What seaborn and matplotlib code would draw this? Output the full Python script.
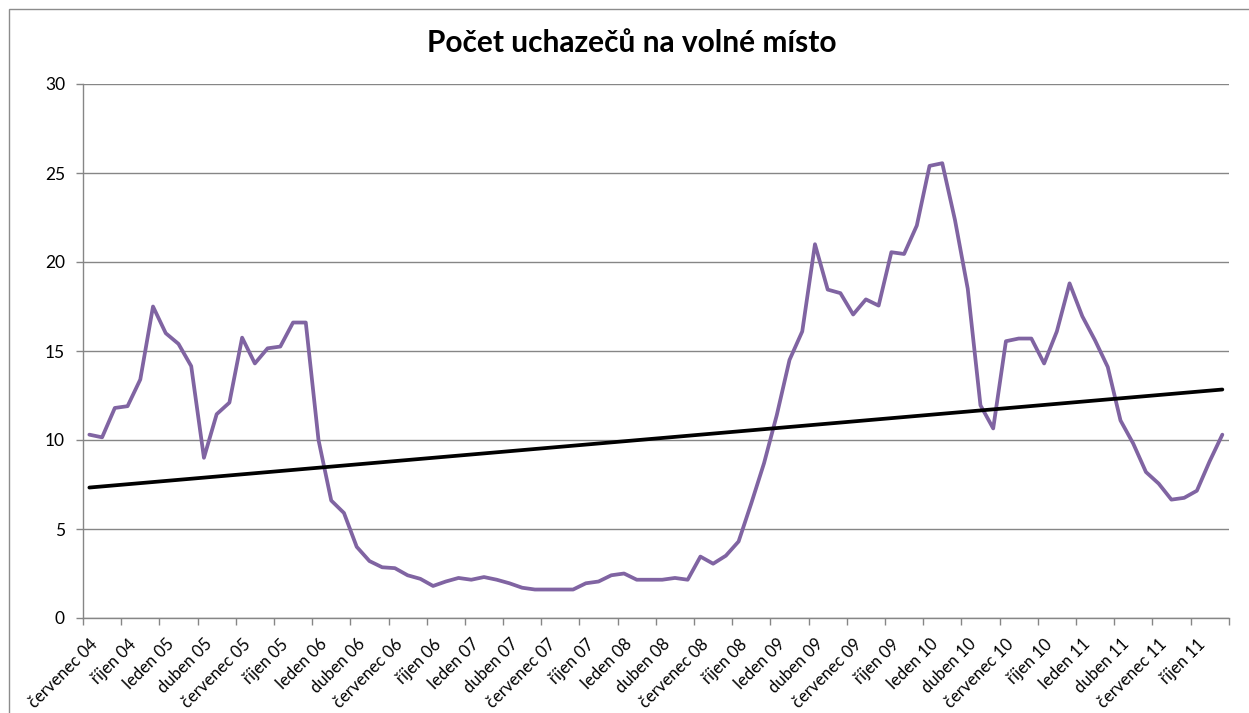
import numpy as np
import pandas as pd
import matplotlib
matplotlib.use('Agg')
import matplotlib.pyplot as plt
import seaborn as sns
from matplotlib.patches import Rectangle

# --- data: počet uchazečů na jedno volné místo, měsíčně 07/2004 - 12/2011 ---
hodnoty_2004 = [10.3, 10.15, 11.8, 11.9, 13.4, 17.5]
hodnoty_2005 = [16.0, 15.4, 14.15, 9.0, 11.45, 12.1, 15.75, 14.3, 15.15, 15.25, 16.6, 16.6]
hodnoty_2006 = [10.0, 6.6, 5.9, 4.0, 3.2, 2.85, 2.8, 2.4, 2.2, 1.8, 2.05, 2.25]
hodnoty_2007 = [2.15, 2.3, 2.15, 1.95, 1.7, 1.6, 1.6, 1.6, 1.6, 1.95, 2.05, 2.4]
hodnoty_2008 = [2.5, 2.15, 2.15, 2.15, 2.25, 2.15, 3.45, 3.05, 3.5, 4.3, 6.45, 8.7]
hodnoty_2009 = [11.4, 14.5, 16.1, 21.0, 18.45, 18.25, 17.05, 17.9, 17.55, 20.55, 20.45, 22.05]
hodnoty_2010 = [25.4, 25.55, 22.35, 18.5, 11.95, 10.65, 15.55, 15.7, 15.7, 14.3, 16.1, 18.8]
hodnoty_2011 = [16.95, 15.6, 14.1, 11.1, 9.8, 8.2, 7.55, 6.65, 6.75, 7.15, 8.8, 10.3]

mesice = ['leden', 'únor', 'březen', 'duben', 'květen', 'červen',
          'červenec', 'srpen', 'září', 'říjen', 'listopad', 'prosinec']
roky = ['04', '05', '06', '07', '08', '09', '10', '11']

titulek = 'Počet uchazečů na volné místo'

# build the table
hodnoty = (hodnoty_2004 + hodnoty_2005 + hodnoty_2006 + hodnoty_2007 +
           hodnoty_2008 + hodnoty_2009 + hodnoty_2010 + hodnoty_2011)
popisky = [f'{m} {r}' for r in roky for m in mesice][6:]
df = pd.DataFrame({'poradi': np.arange(len(hodnoty)), 'mesic': popisky, 'hodnota': hodnoty})

# --- style ---
sns.set_style('white')
plt.rcParams['font.family'] = ['Lato', 'DejaVu Sans']
plt.rcParams['text.color'] = 'black'
plt.rcParams['xtick.labelcolor'] = 'black'
plt.rcParams['ytick.labelcolor'] = 'black'

W, H = 1249, 713
fig = plt.figure(figsize=(W / 100, H / 100), dpi=100)
ax = fig.add_axes([83 / W, 1 - 618 / H, (1228.7 - 83) / W, (618 - 84) / H])

seda = '#868686'

sns.lineplot(data=df, x='poradi', y='hodnota', ax=ax, color='#8064A2', lw=2.7, zorder=3)
sns.regplot(data=df, x='poradi', y='hodnota', ax=ax, scatter=False, ci=None,
            color='black', line_kws={'lw': 2.7, 'zorder': 4})

ax.set_xlim(-0.5, len(hodnoty) - 0.5)
ax.set_ylim(0, 30)
ax.set_yticks(np.arange(0, 31, 5))
ax.yaxis.grid(True, color=seda, lw=1)
ax.set_axisbelow(True)

# labels every 3rd month, tick marks between categories
ax.set_xticks(df['poradi'][::3])
ax.set_xticklabels(df['mesic'][::3], rotation=45, ha='right', rotation_mode='anchor')
ax.set_xticks(np.arange(-0.5, len(hodnoty), 3), minor=True)
ax.tick_params(axis='x', which='major', length=0, pad=13, labelsize=12)
ax.tick_params(axis='x', which='minor', length=5, width=1, color=seda, direction='out', bottom=True)
ax.tick_params(axis='y', length=5, width=1, color=seda, direction='out', left=True,
               pad=8, labelsize=12.5)

for s in ['top', 'right']:
    ax.spines[s].set_visible(False)
for s in ['left', 'bottom']:
    ax.spines[s].set_color(seda)
    ax.spines[s].set_linewidth(1)

ax.set_xlabel('')
ax.set_ylabel('')

fig.text(632 / W, 1 - 43 / H, titulek, ha='center', va='center', fontsize=21.5, fontweight='bold')

# outer chart frame
fig.patches.append(Rectangle((9 / W, -0.05), 1.2, 1 - 9 / H + 0.05, transform=fig.transFigure,
                             fill=False, edgecolor='#8c8c8c', lw=1))

fig.savefig('out.png', dpi=100)
